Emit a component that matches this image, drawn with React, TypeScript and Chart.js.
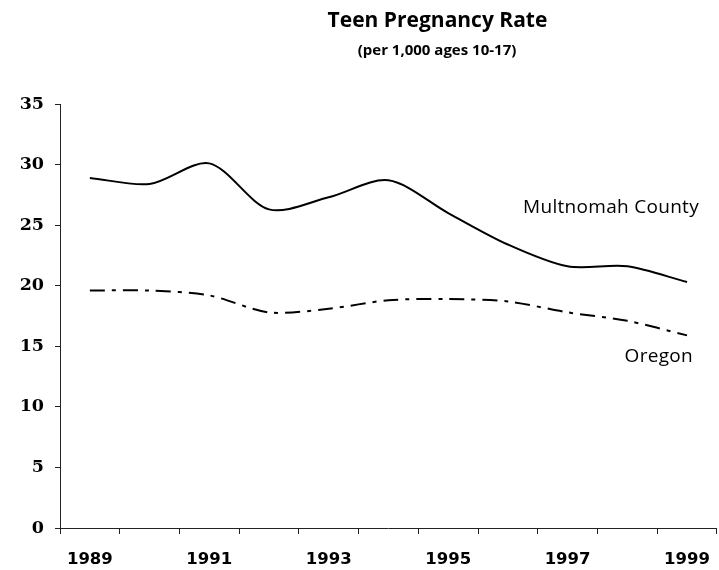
import React, { useEffect, useRef } from "react";
import { Chart, registerables } from "chart.js";

Chart.register(...registerables);

const YEARS = ["1989", "1990", "1991", "1992", "1993", "1994", "1995", "1996", "1997", "1998", "1999"];
const X_TICK_LABELS = ["1989", "", "1991", "", "1993", "", "1995", "", "1997", "", "1999"];
const MULTNOMAH = [28.9, 28.4, 30.1, 26.3, 27.3, 28.7, 26.0, 23.4, 21.6, 21.6, 20.3];
const OREGON = [19.6, 19.6, 19.2, 17.8, 18.1, 18.8, 18.9, 18.7, 17.8, 17.1, 15.9];
const TITLE = "Teen Pregnancy Rate";
const SUBTITLE = "(per 1,000 ages 10-17)";
const SERIES_NAMES = ["Multnomah County", "Oregon"];

const textPlugin = {
  id: "textLabels",
  afterDraw(chart: any) {
    const ctx = chart.ctx as CanvasRenderingContext2D;
    ctx.save();
    ctx.fillStyle = "#000";
    ctx.textBaseline = "alphabetic";
    ctx.textAlign = "center";
    ctx.font = 'bold 21px "Open Sans"';
    ctx.fillText(TITLE, 437.5, 27);
    ctx.font = 'bold 15px "Open Sans"';
    ctx.fillText(SUBTITLE, 437, 54.5);
    ctx.font = '19px "Open Sans"';
    ctx.textAlign = "right";
    try { (ctx as any).letterSpacing = "0.3px"; } catch (e) {}
    ctx.fillText(SERIES_NAMES[0], 699, 212.5);
    ctx.fillText(SERIES_NAMES[1], 693, 361.5);
    ctx.restore();
  },
};

export default function App() {
  const ref = useRef<HTMLCanvasElement | null>(null);
  useEffect(() => {
    if (!ref.current) return;
    const xFont = { family: '"DejaVu Sans"', size: 16.5, weight: "bold" as const };
    const yFont = { family: '"DejaVu Serif"', size: 17.5, weight: "bold" as const };
    const chart = new Chart(ref.current, {
      type: "line",
      data: {
        labels: YEARS,
        datasets: [
          {
            label: SERIES_NAMES[0],
            data: MULTNOMAH,
            borderColor: "#000",
            borderWidth: 2,
            pointRadius: 0,
            tension: 0.3,
            fill: false,
          },
          {
            label: SERIES_NAMES[1],
            data: OREGON,
            borderColor: "#000",
            borderWidth: 2,
            borderDash: [15, 7, 4, 7],
            pointRadius: 0,
            tension: 0.3,
            fill: false,
          },
        ],
      },
      options: {
        animation: false,
        responsive: false,
        devicePixelRatio: 1,
        layout: { padding: { top: 104, right: 0, left: 0, bottom: 0 } },
        plugins: {
          legend: { display: false },
          tooltip: { enabled: false },
          title: { display: false },
        },
        scales: {
          x: {
            type: "category",
            offset: true,
            grid: {
              display: true,
              drawOnChartArea: false,
              drawTicks: true,
              tickLength: 6,
              color: "#222",
              offset: true,
            },
            border: { display: true, color: "#222", width: 1 },
            ticks: {
              autoSkip: false,
              maxRotation: 0,
              minRotation: 0,
              padding: 16,
              color: "#000",
              font: xFont,
              callback: (_v: any, i: number) => X_TICK_LABELS[i],
            },
            afterFit: (scale: any) => {
              scale.height = 42;
            },
          },
          y: {
            min: 0,
            max: 35,
            grid: {
              display: true,
              drawOnChartArea: false,
              drawTicks: true,
              tickLength: 5,
              color: "#222",
            },
            border: { display: true, color: "#222", width: 1 },
            ticks: {
              stepSize: 5,
              padding: 11,
              color: "#000",
              font: yFont,
            },
            afterFit: (scale: any) => {
              scale.width = 60;
            },
          },
        },
      },
      plugins: [textPlugin],
    });
    return () => chart.destroy();
  }, []);

  return (
    <div
      style={{
        position: "fixed",
        left: 0,
        top: 0,
        width: 719,
        height: 570,
        overflow: "hidden",
        background: "#fff",
      }}
    >
      <canvas ref={ref} width={726} height={570} style={{ display: "block" }} />
    </div>
  );
}
